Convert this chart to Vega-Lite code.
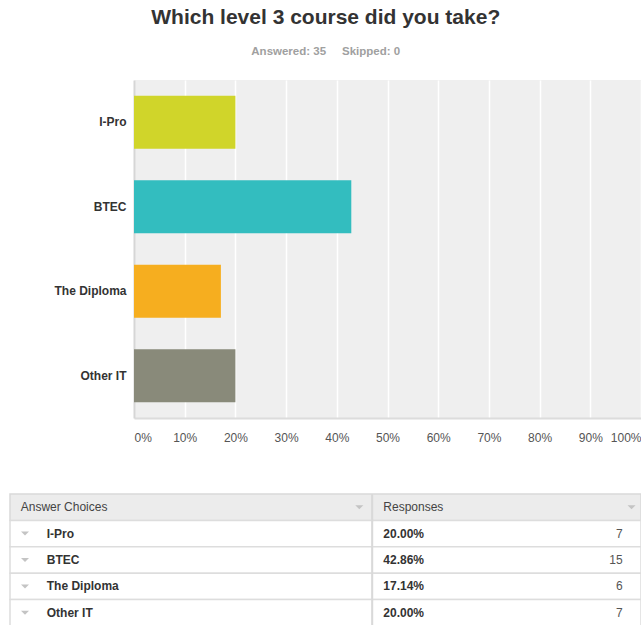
{
  "$schema": "https://vega.github.io/schema/vega-lite/v6.json",
  "padding": {"left": 9, "top": 6, "right": 0, "bottom": 0},
  "background": "#ffffff",
  "config": {"font": "Liberation Sans", "view": {"stroke": null}},
  "datasets": {
    "survey": [
      {"choice": "I-Pro", "pct": 0.2, "count": 7},
      {"choice": "BTEC", "pct": 0.4286, "count": 15},
      {"choice": "The Diploma", "pct": 0.1714, "count": 6},
      {"choice": "Other IT", "pct": 0.2, "count": 7}
    ],
    "header": [
      {"choice": "Answer Choices", "resp": "Responses"}
    ]
  },
  "spacing": 50,
  "vconcat": [
    {
      "width": 507,
      "height": 338,
      "view": {"fill": "#efefef", "stroke": null},
      "data": {"name": "survey"},
      "title": {
        "text": "Which level 3 course did you take?",
        "subtitle": "Answered: 35\u00a0\u00a0\u00a0\u00a0\u00a0Skipped: 0",
        "font": "Liberation Sans",
        "fontSize": 21,
        "fontWeight": "bold",
        "color": "#333333",
        "subtitleFont": "Liberation Sans",
        "subtitleFontSize": 11.5,
        "subtitleFontWeight": "bold",
        "subtitleColor": "#a0a0a0",
        "subtitlePadding": 18,
        "offset": 23,
        "anchor": "middle",
        "frame": "bounds"
      },
      "mark": {"type": "bar"},
      "encoding": {
        "y": {
          "field": "choice",
          "type": "nominal",
          "sort": null,
          "scale": {"paddingInner": 0.37, "paddingOuter": 0.185},
          "axis": {
            "title": null,
            "labelFont": "Liberation Sans",
            "labelFontSize": 12,
            "labelFontWeight": "bold",
            "labelColor": "#333333",
            "tickSize": 0,
            "labelPadding": 8,
            "domainColor": "#d6d6d6",
            "domainWidth": 2,
            "minExtent": 124,
            "maxExtent": 124,
            "grid": false
          }
        },
        "x": {
          "field": "pct",
          "type": "quantitative",
          "scale": {"domain": [0, 1], "nice": false},
          "axis": {
            "title": null,
            "values": [0, 0.1, 0.2, 0.3, 0.4, 0.5, 0.6, 0.7, 0.8, 0.9, 1],
            "format": ".0%",
            "labelFlush": true,
            "tickSize": 0,
            "labelPadding": 14,
            "labelFont": "Liberation Sans",
            "labelFontSize": 12,
            "labelColor": "#555555",
            "domainColor": "#dcdcdc",
            "domainWidth": 2,
            "gridColor": "#ffffff",
            "gridWidth": 1.5
          }
        },
        "color": {
          "field": "choice",
          "type": "nominal",
          "scale": {
            "domain": ["I-Pro", "BTEC", "The Diploma", "Other IT"],
            "range": ["#d0d52a", "#33bdbf", "#f6ae1f", "#898a7a"]
          },
          "legend": null
        }
      }
    },
    {
      "width": 507,
      "height": 132,
      "layer": [
        {
          "data": {"name": "header"},
          "mark": {"type": "rect", "fill": "#ececec", "stroke": "#d9d9d9", "strokeWidth": 1.5},
          "encoding": {
            "x": {"datum": 0, "type": "quantitative", "scale": {"domain": [0, 100], "range": [-124, 507], "nice": false, "zero": false}, "axis": null},
            "x2": {"datum": 100},
            "y": {"field": "choice", "type": "nominal", "scale": {"domain": ["Answer Choices", "I-Pro", "BTEC", "The Diploma", "Other IT"], "paddingInner": 0, "paddingOuter": 0}, "axis": null}
          }
        },
        {
          "data": {"name": "survey"},
          "mark": {"type": "rect", "fill": "#ffffff", "stroke": "#dddddd", "strokeWidth": 1.5},
          "encoding": {
            "x": {"datum": 0, "type": "quantitative", "axis": null},
            "x2": {"datum": 100},
            "y": {"field": "choice", "type": "nominal", "axis": null}
          }
        },
        {
          "data": {"name": "survey"},
          "mark": {"type": "rule", "color": "#d9d9d9", "strokeWidth": 1.5},
          "encoding": {
            "x": {"datum": 57.42, "type": "quantitative", "axis": null}
          }
        },
        {
          "data": {"name": "header"},
          "mark": {"type": "text", "align": "left", "fontSize": 12, "color": "#444444", "font": "Liberation Sans"},
          "encoding": {
            "x": {"datum": 1.7, "type": "quantitative", "axis": null},
            "y": {"field": "choice", "type": "nominal", "axis": null},
            "text": {"field": "choice"}
          }
        },
        {
          "data": {"name": "header"},
          "mark": {"type": "text", "align": "left", "fontSize": 12, "color": "#444444", "font": "Liberation Sans"},
          "encoding": {
            "x": {"datum": 59.16, "type": "quantitative", "axis": null},
            "y": {"field": "choice", "type": "nominal", "axis": null},
            "text": {"field": "resp"}
          }
        },
        {
          "data": {"name": "header"},
          "mark": {"type": "point", "shape": "M-1,-0.5L1,-0.5L0,0.5Z", "filled": true, "size": 64, "color": "#c4c4c4", "opacity": 1},
          "encoding": {
            "x": {"datum": 55.36, "type": "quantitative", "axis": null},
            "y": {"field": "choice", "type": "nominal", "axis": null}
          }
        },
        {
          "data": {"name": "header"},
          "mark": {"type": "point", "shape": "M-1,-0.5L1,-0.5L0,0.5Z", "filled": true, "size": 64, "color": "#c4c4c4", "opacity": 1},
          "encoding": {
            "x": {"datum": 98.5, "type": "quantitative", "axis": null},
            "y": {"field": "choice", "type": "nominal", "axis": null}
          }
        },
        {
          "data": {"name": "survey"},
          "mark": {"type": "point", "shape": "M-1,-0.5L1,-0.5L0,0.5Z", "filled": true, "size": 64, "color": "#c4c4c4", "opacity": 1},
          "encoding": {
            "x": {"datum": 2.38, "type": "quantitative", "axis": null},
            "y": {"field": "choice", "type": "nominal", "axis": null}
          }
        },
        {
          "data": {"name": "survey"},
          "mark": {"type": "text", "align": "left", "fontSize": 12, "fontWeight": "bold", "color": "#333333", "font": "Liberation Sans"},
          "encoding": {
            "x": {"datum": 5.82, "type": "quantitative", "axis": null},
            "y": {"field": "choice", "type": "nominal", "axis": null},
            "text": {"field": "choice"}
          }
        },
        {
          "data": {"name": "survey"},
          "mark": {"type": "text", "align": "left", "fontSize": 12, "fontWeight": "bold", "color": "#333333", "font": "Liberation Sans"},
          "encoding": {
            "x": {"datum": 59.16, "type": "quantitative", "axis": null},
            "y": {"field": "choice", "type": "nominal", "axis": null},
            "text": {"field": "pct", "type": "quantitative", "format": ".2%"}
          }
        },
        {
          "data": {"name": "survey"},
          "mark": {"type": "text", "align": "right", "fontSize": 12, "color": "#555555", "font": "Liberation Sans"},
          "encoding": {
            "x": {"datum": 97.1, "type": "quantitative", "axis": null},
            "y": {"field": "choice", "type": "nominal", "axis": null},
            "text": {"field": "count", "type": "quantitative"}
          }
        }
      ]
    }
  ]
}
